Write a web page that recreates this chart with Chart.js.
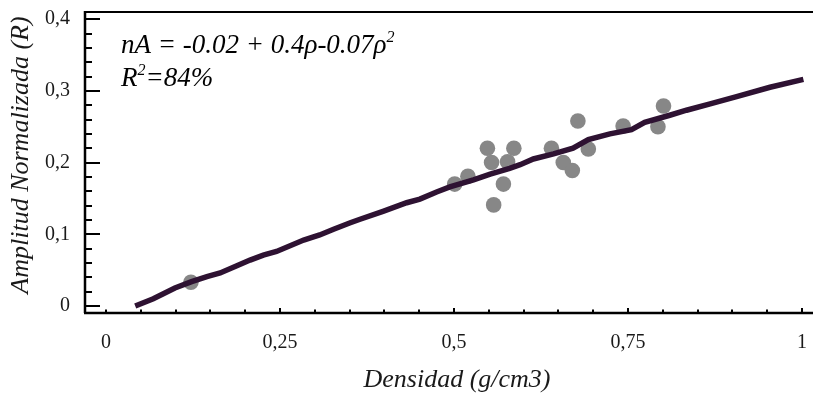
<!DOCTYPE html>
<html lang="es">
<head>
<meta charset="utf-8">
<title>Amplitud normalizada vs densidad</title>
<script src="https://cdn.jsdelivr.net/npm/chart.js@4.4.1/dist/chart.umd.min.js"></script>
<style>
  html, body { margin: 0; padding: 0; background: #fff; }
  #wrap { width: 813px; height: 394px; }
</style>
</head>
<body>
<div id="wrap"><canvas id="grafico" width="813" height="394"></canvas></div>
<script>
// ── Datos ─────────────────────────────────────────────────────────────────────
// puntos medidos
const densidadPuntos = [0.122, 0.501, 0.520, 0.548, 0.554, 0.557, 0.571, 0.577, 0.586,
                        0.640, 0.657, 0.670, 0.678, 0.693, 0.743, 0.793, 0.801];
const amplitudPuntos = [0.033, 0.170, 0.181, 0.220, 0.200, 0.141, 0.170, 0.201, 0.220,
                        0.220, 0.200, 0.189, 0.258, 0.219, 0.251, 0.250, 0.279];

// curva de ajuste
const densidadAjuste = [0.042, 0.068, 0.099, 0.123, 0.145, 0.164, 0.188, 0.207, 0.226, 0.245,
                        0.284, 0.307, 0.327, 0.351, 0.365, 0.398, 0.432, 0.451, 0.475, 0.494,
                        0.528, 0.552, 0.580, 0.595, 0.614, 0.643, 0.671, 0.693, 0.724, 0.755,
                        0.774, 0.810, 0.834, 0.868, 0.906, 0.954, 1.002];
const amplitudAjuste = [0.000, 0.010, 0.025, 0.034, 0.041, 0.046, 0.056, 0.064, 0.071, 0.076,
                        0.092, 0.099, 0.107, 0.116, 0.121, 0.132, 0.144, 0.149, 0.159, 0.166,
                        0.176, 0.184, 0.192, 0.197, 0.205, 0.212, 0.220, 0.232, 0.240, 0.246,
                        0.256, 0.266, 0.273, 0.282, 0.292, 0.305, 0.316];

// ticks
const xTicks      = [0, 0.25, 0.5, 0.75, 1];
const xTickLabels = ['0', '0,25', '0,5', '0,75', '1'];
const xMenores    = [0, 0.05, 0.1, 0.15, 0.2, 0.3, 0.35, 0.4, 0.45, 0.55, 0.6, 0.65, 0.7, 0.8, 0.85, 0.9, 0.95];
const yTicks      = [0, 0.1, 0.2, 0.3, 0.4];
const yTickLabels = ['0', '0,1', '0,2', '0,3', '0,4'];
const yMenores    = [0.02, 0.04, 0.06, 0.08, 0.12, 0.14, 0.16, 0.18, 0.22, 0.24, 0.26, 0.28,
                     0.32, 0.34, 0.36, 0.38];

const tituloX = 'Densidad (g/cm3)';
const tituloY = 'Amplitud Normalizada (R)';

// ── Estilos ───────────────────────────────────────────────────────────────────
const SERIF = '"Liberation Serif", "Times New Roman", serif';

// ── Plugin: ejes, ticks hacia dentro y textos ─────────────────────────────────
const ejes = {
  id: 'ejes',
  afterDraw(chart) {
    const { ctx, chartArea: a, scales: { x, y } } = chart;
    ctx.save();
    ctx.strokeStyle = '#000';
    ctx.lineCap = 'butt';

    // marco: izquierda, abajo, arriba
    ctx.lineWidth = 2.5;
    ctx.beginPath();
    ctx.moveTo(a.left + 1, a.top); ctx.lineTo(a.left + 1, a.bottom);
    ctx.moveTo(a.left, a.bottom); ctx.lineTo(a.right, a.bottom);
    ctx.stroke();
    ctx.lineWidth = 2;
    ctx.beginPath();
    ctx.moveTo(a.left, a.top + 1); ctx.lineTo(a.right, a.top + 1);
    ctx.stroke();

    // ticks eje y
    ctx.lineWidth = 2;
    ctx.beginPath();
    yTicks.forEach(v => { const p = Math.round(y.getPixelForValue(v)); ctx.moveTo(a.left, p); ctx.lineTo(a.left + 16, p); });
    yMenores.forEach(v => { const p = Math.round(y.getPixelForValue(v)); ctx.moveTo(a.left, p); ctx.lineTo(a.left + 8, p); });
    // ticks eje x
    xTicks.slice(1).forEach(v => { const p = Math.round(x.getPixelForValue(v)); ctx.moveTo(p, a.bottom); ctx.lineTo(p, a.bottom - 5); });
    xMenores.forEach(v => { const p = Math.round(x.getPixelForValue(v)); ctx.moveTo(p, a.bottom); ctx.lineTo(p, a.bottom - 3.5); });
    ctx.stroke();

    // títulos
    ctx.fillStyle = '#1a1a1a';
    ctx.font = `italic 26px ${SERIF}`;
    ctx.textAlign = 'center';
    ctx.textBaseline = 'alphabetic';
    ctx.fillText(tituloX, 457, 387);

    ctx.save();
    ctx.translate(28, 155);
    ctx.rotate(-Math.PI / 2);
    ctx.fillText(tituloY, 0, 0);
    ctx.restore();

    // ecuación del ajuste
    ctx.textAlign = 'left';
    ctx.fillStyle = '#000';
    let xx = 121;
    const eq = 'nA = -0.02 + 0.4\u03C1-0.07\u03C1';
    ctx.font = `italic 27px ${SERIF}`;
    ctx.fillText(eq, xx, 53);
    xx += ctx.measureText(eq).width;
    ctx.font = `italic 16px ${SERIF}`;
    ctx.fillText('2', xx, 42);

    xx = 121;
    ctx.font = `italic 27px ${SERIF}`;
    ctx.fillText('R', xx, 86);
    xx += ctx.measureText('R').width;
    ctx.font = `italic 16px ${SERIF}`;
    ctx.fillText('2', xx, 75);
    xx += ctx.measureText('2').width;
    ctx.font = `italic 27px ${SERIF}`;
    ctx.fillText('=84%', xx, 86);

    ctx.restore();
  },
};

// ── Gráfico ───────────────────────────────────────────────────────────────────
new Chart(document.getElementById('grafico'), {
  type: 'scatter',
  data: {
    datasets: [
      {
        type: 'line',
        label: 'Ajuste',
        data: densidadAjuste.map((d, i) => ({ x: d, y: amplitudAjuste[i] })),
        borderColor: '#2e1232',
        borderWidth: 5.5,
        pointRadius: 0,
        tension: 0,
        fill: false,
        order: 0,
      },
      {
        label: 'Medidas',
        data: densidadPuntos.map((d, i) => ({ x: d, y: amplitudPuntos[i] })),
        backgroundColor: '#878787',
        borderWidth: 0,
        pointRadius: 7.8,
        order: 1,
      },
    ],
  },
  options: {
    responsive: false,
    animation: false,
    events: [],
    layout: { autoPadding: false, padding: { top: 11, right: 0, left: 0, bottom: 0 } },
    plugins: { legend: { display: false }, tooltip: { enabled: false } },
    scales: {
      x: {
        type: 'linear',
        min: -0.0316,
        max: 1.0158,
        grid: { display: false, drawTicks: false },
        border: { display: false },
        afterBuildTicks: s => { s.ticks = xTicks.map(v => ({ value: v })); },
        afterFit: s => { s.height = 81; s.paddingLeft = 0; s.paddingRight = 0; },
        ticks: {
          autoSkip: false,
          maxRotation: 0,
          padding: 18,
          color: '#1a1a1a',
          font: { family: SERIF, size: 20 },
          callback: v => xTickLabels[xTicks.indexOf(v)] ?? '',
        },
      },
      y: {
        type: 'linear',
        min: -0.0098,
        max: 0.4114,
        grid: { display: false, drawTicks: false },
        border: { display: false },
        afterBuildTicks: s => { s.ticks = yTicks.map(v => ({ value: v })); },
        afterFit: s => { s.width = 84; s.paddingTop = 0; s.paddingBottom = 0; },
        ticks: {
          autoSkip: false,
          padding: 14,
          color: '#1a1a1a',
          font: { family: SERIF, size: 20 },
          callback: v => yTickLabels[yTicks.indexOf(v)] ?? '',
        },
      },
    },
  },
  plugins: [ejes],
});
</script>
</body>
</html>
